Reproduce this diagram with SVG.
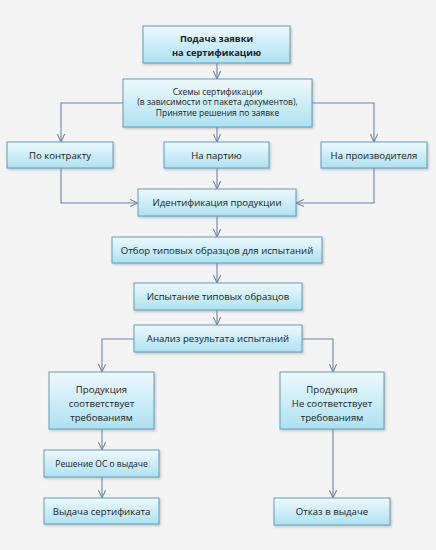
<svg xmlns="http://www.w3.org/2000/svg" width="436" height="550" viewBox="0 0 436 550">
<style>
.box{fill:url(#g);stroke:#5e9fba;stroke-width:1;filter:url(#sh)}
.t{font-family:"Open Sans","Noto Sans","Liberation Sans",sans-serif;font-size:9.6px;fill:#222;text-anchor:middle}
.s{font-size:8.5px}
.b{font-weight:bold;font-size:9.3px}
.c{fill:none;stroke:#6d84a8;stroke-width:1.1;marker-end:url(#a)}
</style>
<defs>
<linearGradient id="g" x1="0" y1="0" x2="0" y2="1">
<stop offset="0" stop-color="#eef9fd"/>
<stop offset="1" stop-color="#ace2f1"/>
</linearGradient>
<filter id="sh" x="-10%" y="-10%" width="125%" height="140%">
<feDropShadow dx="1.2" dy="1.5" stdDeviation="1" flood-color="#888" flood-opacity="0.45"/>
</filter>
<marker id="a" viewBox="0 0 10 10" refX="10" refY="5" markerWidth="8" markerHeight="8" markerUnits="userSpaceOnUse" orient="auto">
<path d="M0,0.5 L10,5 L0,9.5" fill="none" stroke="#6d84a8" stroke-width="1.3"/>
</marker>
</defs>
<rect width="436" height="550" fill="#f4f4f5"/>
<g id="connectors">
<path class="c" d="M217,63 V79"/>
<path class="c" d="M123,103 H61 V142"/>
<path class="c" d="M217,127 V142"/>
<path class="c" d="M312,103 H374 V142"/>
<path class="c" d="M61,168 V203 H138"/>
<path class="c" d="M217,168 V189"/>
<path class="c" d="M374,168 V203 H296"/>
<path class="c" d="M217,216 V237"/>
<path class="c" d="M217,263 V283"/>
<path class="c" d="M217,310 V325"/>
<path class="c" d="M134,339 H102 V372"/>
<path class="c" d="M302,339 H333 V372"/>
<path class="c" d="M102,429 V450"/>
<path class="c" d="M102,477 V498"/>
<path class="c" d="M333,429 V498"/>
</g>
<g id="n1"><rect class="box" x="143" y="26" width="147" height="37"/>
<text class="t b" x="216.5" y="41.5">Подача заявки</text>
<text class="t b" x="216.5" y="56">на сертификацию</text></g>
<g id="n2"><rect class="box" x="123" y="79" width="189" height="48"/>
<text class="t s" x="217.5" y="94.5">Схемы сертификации</text>
<text class="t s" x="217.5" y="105">(в зависимости  от пакета документов),</text>
<text class="t s" x="217.5" y="115.5">Принятие  решения  по заявке</text></g>
<g id="n3"><rect class="box" x="7" y="142" width="106" height="26"/>
<text class="t" x="60" y="158.5">По контракту</text></g>
<g id="n4"><rect class="box" x="164" y="142" width="105" height="26"/>
<text class="t" x="216.5" y="158.5">На партию</text></g>
<g id="n5"><rect class="box" x="321" y="142" width="106" height="26"/>
<text class="t" x="374" y="158.5">На производителя</text></g>
<g id="n6"><rect class="box" x="138" y="189" width="158" height="27"/>
<text class="t" x="217" y="206">Идентификация продукции</text></g>
<g id="n7"><rect class="box" x="112" y="237" width="210" height="26"/>
<text class="t" x="217" y="253.5">Отбор типовых образцов для испытаний</text></g>
<g id="n8"><rect class="box" x="134" y="283" width="168" height="27"/>
<text class="t" x="218" y="300">Испытание типовых образцов</text></g>
<g id="n9"><rect class="box" x="134" y="325" width="168" height="27"/>
<text class="t" x="218" y="342">Анализ результата испытаний</text></g>
<g id="n10"><rect class="box" x="49" y="372" width="105" height="57"/>
<text class="t" x="101.5" y="393">Продукция</text>
<text class="t" x="101.5" y="407">соответствует</text>
<text class="t" x="101.5" y="420.5">требованиям</text></g>
<g id="n11"><rect class="box" x="280" y="372" width="104" height="57"/>
<text class="t" x="332" y="393">Продукция</text>
<text class="t" x="332" y="407">Не соответствует</text>
<text class="t" x="332" y="420.5">требованиям</text></g>
<g id="n12"><rect class="box" x="44" y="450" width="115" height="27"/>
<text class="t s" x="101.5" y="467">Решение ОС о выдаче</text></g>
<g id="n13"><rect class="box" x="44" y="498" width="115" height="26"/>
<text class="t" x="101.5" y="515">Выдача сертификата</text></g>
<g id="n14"><rect class="box" x="274" y="498" width="116" height="27"/>
<text class="t" x="332" y="515">Отказ в выдаче</text></g>
</svg>
